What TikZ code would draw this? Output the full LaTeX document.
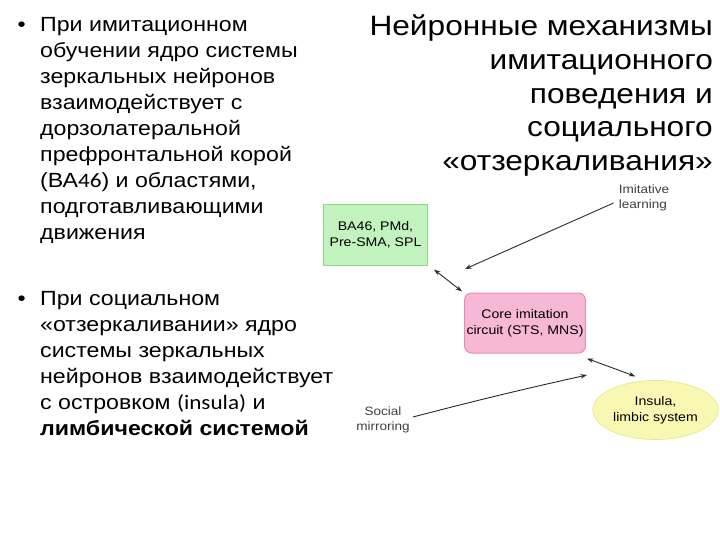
\documentclass[tikz,border=0pt]{standalone}
\usepackage{fontspec}
\setmainfont{Liberation Sans}[FakeStretch=1.13]
\newfontfamily\calfont{Carlito}[FakeStretch=1.13]
\usepackage{xcolor}
\usetikzlibrary{arrows, arrows.meta}
\usetikzlibrary{shapes.geometric, positioning, calc}

\definecolor{greenfill}{HTML}{C2F2BE}
\definecolor{greenline}{HTML}{8CD88A}
\definecolor{pinkfill}{HTML}{F6B8D4}
\definecolor{pinkline}{HTML}{E68CB6}
\definecolor{yellowfill}{HTML}{F8F8B2}
\definecolor{yellowline}{HTML}{E8E48A}
\definecolor{arrowgray}{HTML}{2A2A2A}

\tikzset{
  bullettext/.style={anchor=north west, align=left, inner sep=0pt, font=\fontsize{20.5}{26}\selectfont},
  areabox/.style={draw=#1line, fill=#1fill, line width=1pt, align=center, inner sep=2pt, font=\fontsize{12.5}{16}\selectfont},
  sidelabel/.style={inner sep=0pt, font=\fontsize{12}{15.5}\selectfont, text=black!75},
  link/.style={arrowgray, line width=0.9pt, >={Stealth[length=6.5pt, width=4.5pt]}}
}

\begin{document}
\begin{tikzpicture}[x=1pt, y=-1pt]
      \useasboundingbox (0, 0) rectangle (720, 540);
      \fill[white] (0, 0) rectangle (720, 540);

      % title
      \node[anchor=north east, align=right, inner sep=0pt, font=\fontsize{28}{33.6}\selectfont] (title) at (713, 15) {Нейронные механизмы\\имитационного\\поведения и\\социального\\«отзеркаливания»};

      % bullets
      \node[bullettext] (first) at (40, 13.5) {\strut При имитационном\\обучении ядро системы\\зеркальных нейронов\\взаимодействует с\\дорзолатеральной\\префронтальной корой\\(ВА{\calfont 46}) и областями,\\подготавливающими\\движения};
      \node[bullettext, anchor=north east] (dotone) at (first.north west) {\strut•\hspace{14pt}};

      \node[bullettext] (second) at (40, 287) {\strut При социальном\\«отзеркаливании» ядро\\системы зеркальных\\нейронов взаимодействует\\с островком {\calfont (insula)} и\\\textbf{лимбической системой}};
      \node[bullettext, anchor=north east] (dottwo) at (second.north west) {\strut•\hspace{14pt}};

      % diagram
      \node[areabox=green, minimum width=104, minimum height=60] (ba) at (375.5, 235) {BA46, PMd,\\Pre-SMA, SPL};
      \node[areabox=pink, rounded corners=7pt, minimum width=116, minimum height=60] (core) at (525, 323) {Core imitation\\circuit (STS, MNS)};
      \node[areabox=yellow, ellipse, line width=0.6pt, minimum width=125, minimum height=59] (insula) at (655.5, 410) {Insula,\\limbic system};

      \node[sidelabel, align=left] (imit) at (644, 198) {Imitative\\learning};
      \node[sidelabel, align=center] (social) at (383, 420) {Social\\mirroring};

      \coordinate (imitend) at (465, 269);
      \coordinate (socialend) at (587, 375);

      \draw[link, ->] ([shift={(-5, 5)}]imit.west) -- (imitend);
      \draw[link, <->] ([shift={(6, 4)}]ba.south east) -- ([shift={(-2, -1)}]core.north west);
      \draw[link, <->] ([shift={(1, 5)}]core.south east) -- ([shift={(3, -6)}]insula.130);
      \draw[link, ->] ([shift={(3, -3)}]social.east) to[bend left=1] (socialend);

    \end{tikzpicture}
\end{document}
